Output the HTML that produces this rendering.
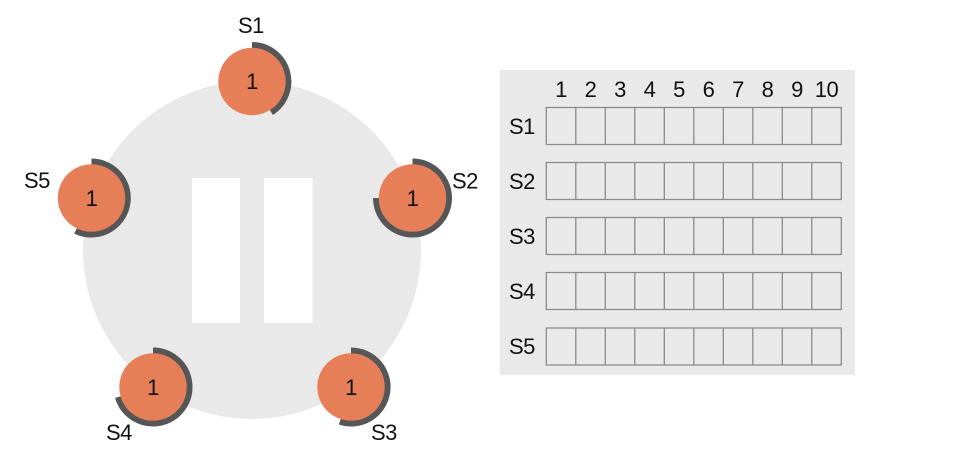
<!DOCTYPE html>
<html>
<head>
<meta charset="utf-8">
<style>
html,body{margin:0;padding:0;background:#fff;width:965px;height:464px;overflow:hidden}
svg{display:block}
text{font-family:"Liberation Sans",sans-serif;font-size:22px;letter-spacing:-0.5px;fill:#111}
.m{text-anchor:middle}
.a{fill:none;stroke:#565656;stroke-width:6}
.c{fill:#E67F58}
.g{fill:none;stroke:#8a8a8a;stroke-width:1.3}
</style>
</head>
<body>
<svg width="965" height="464" viewBox="0 0 965 464" xmlns="http://www.w3.org/2000/svg">
<circle cx="252" cy="250" r="169" fill="#e9e9e9"/>
<rect x="192" y="178" width="48" height="145" fill="#fff"/>
<rect x="264" y="178" width="48.5" height="145" fill="#fff"/>

<path class="a" d="M252 45A36.500 36.500 0 0 1 271.300 112.400"/>
<circle class="c" cx="252" cy="81.500" r="33.700"/>
<text class="m" x="252" y="89">1</text>
<text x="238" y="33">S1</text>

<path class="a" d="M412.500 161.500A36.500 36.500 0 1 1 376 198"/>
<circle class="c" cx="412.500" cy="198" r="33.700"/>
<text class="m" x="412.500" y="206">1</text>
<text x="452" y="188.500">S2</text>

<path class="a" d="M351 350.500A36.500 36.500 0 1 1 339.750 421.700"/>
<circle class="c" cx="351" cy="387" r="33.700"/>
<text class="m" x="351" y="395">1</text>
<text x="371" y="440">S3</text>

<path class="a" d="M153 350.500A36.500 36.500 0 1 1 117.900 397.100"/>
<circle class="c" cx="153" cy="387" r="33.700"/>
<text class="m" x="153" y="395">1</text>
<text x="106" y="440">S4</text>

<path class="a" d="M91.500 161.500A36.500 36.500 0 1 1 75.500 230.900"/>
<circle class="c" cx="91.500" cy="198" r="33.700"/>
<text class="m" x="91.500" y="206">1</text>
<text x="24" y="188">S5</text>

<rect x="500" y="70" width="355" height="305" fill="#e9e9e9"/>
<text class="m" x="561" y="97">1</text>
<text class="m" x="590.500" y="97">2</text>
<text class="m" x="620" y="97">3</text>
<text class="m" x="649.500" y="97">4</text>
<text class="m" x="679" y="97">5</text>
<text class="m" x="708.500" y="97">6</text>
<text class="m" x="738" y="97">7</text>
<text class="m" x="767.500" y="97">8</text>
<text class="m" x="797" y="97">9</text>
<text class="m" x="826.500" y="97">10</text>
<text x="509" y="134">S1</text>
<text x="509" y="189">S2</text>
<text x="509" y="244">S3</text>
<text x="509" y="299">S4</text>
<text x="509" y="354">S5</text>
<path class="g" d="M546.300 107.500H841.300V144.500H546.300ZM575.800 107.500V144.500M605.300 107.500V144.500M634.800 107.500V144.500M664.300 107.500V144.500M693.800 107.500V144.500M723.300 107.500V144.500M752.800 107.500V144.500M782.300 107.500V144.500M811.800 107.500V144.500"/>
<path class="g" d="M546.300 162.500H841.300V199.500H546.300ZM575.800 162.500V199.500M605.300 162.500V199.500M634.800 162.500V199.500M664.300 162.500V199.500M693.800 162.500V199.500M723.300 162.500V199.500M752.800 162.500V199.500M782.300 162.500V199.500M811.800 162.500V199.500"/>
<path class="g" d="M546.300 217.500H841.300V254.500H546.300ZM575.800 217.500V254.500M605.300 217.500V254.500M634.800 217.500V254.500M664.300 217.500V254.500M693.800 217.500V254.500M723.300 217.500V254.500M752.800 217.500V254.500M782.300 217.500V254.500M811.800 217.500V254.500"/>
<path class="g" d="M546.300 272.500H841.300V309.500H546.300ZM575.800 272.500V309.500M605.300 272.500V309.500M634.800 272.500V309.500M664.300 272.500V309.500M693.800 272.500V309.500M723.300 272.500V309.500M752.800 272.500V309.500M782.300 272.500V309.500M811.800 272.500V309.500"/>
<path class="g" d="M546.300 328H841.300V365H546.300ZM575.800 328V365M605.300 328V365M634.800 328V365M664.300 328V365M693.800 328V365M723.300 328V365M752.800 328V365M782.300 328V365M811.800 328V365"/>
</svg>
</body>
</html>
